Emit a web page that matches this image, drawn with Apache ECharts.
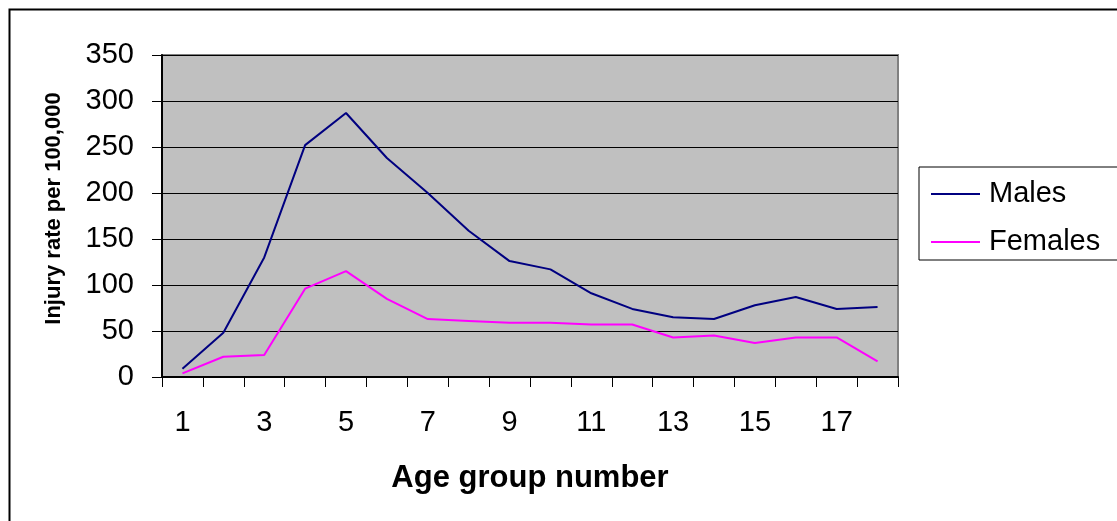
<!DOCTYPE html>
<html>
<head>
<meta charset="utf-8">
<script src="https://cdn.jsdelivr.net/npm/echarts@6/dist/echarts.min.js"></script>
<style>
html,body{margin:0;padding:0;background:#fff;}
#chart{width:1117px;height:521px;}
</style>
</head>
<body>
<div id="chart"></div>
<script>
const categories = ['1','2','3','4','5','6','7','8','9','10','11','12','13','14','15','16','17','18'];
const males = [9, 48, 130, 252, 287, 238, 200, 159, 126, 117, 91, 74, 65, 63, 78, 87, 74, 76];
const females = [4, 22, 24, 96, 115, 85, 63, 61, 59, 59, 57, 57, 43, 45, 37, 43, 43, 17];
const yTicks = [0, 50, 100, 150, 200, 250, 300, 350];

const chart = echarts.init(document.getElementById('chart'), null, {renderer: 'canvas'});
const font = 'Arial, "Liberation Sans", sans-serif';
chart.setOption({
  animation: false,
  textStyle: {fontFamily: font},
  graphic: [{
    type: 'rect',
    shape: {x: 9.5, y: 9.5, width: 1200, height: 600},
    style: {fill: 'none', stroke: '#000', lineWidth: 2},
    silent: true
  }],
  grid: {
    left: 162, top: 55, right: 219, bottom: 144,
    show: true, backgroundColor: '#C0C0C0', borderColor: '#808080', borderWidth: 2
  },
  legend: {
    orient: 'vertical',
    left: 919, top: 167,
    padding: [11, 40, 2, 12],
    itemGap: 16,
    itemWidth: 49, itemHeight: 2,
    icon: 'rect',
    borderColor: '#000', borderWidth: 1,
    backgroundColor: '#fff',
    textStyle: {fontSize: 29, color: '#000', fontFamily: font, lineHeight: 32, padding: [0,0,0,4]},
    data: ['Males', 'Females']
  },
  xAxis: {
    type: 'category',
    data: categories,
    boundaryGap: true,
    name: 'Age group number',
    nameLocation: 'middle',
    nameGap: 86,
    nameTextStyle: {fontSize: 31, fontWeight: 'bold', color: '#000', fontFamily: font},
    axisLine: {lineStyle: {color: '#000', width: 2}},
    axisTick: {show: true, length: 10, interval: 0, lineStyle: {color: '#000', width: 1}},
    axisLabel: {interval: 1, fontSize: 29, color: '#000', margin: 31, fontFamily: font},
    splitLine: {show: false}
  },
  yAxis: {
    type: 'value',
    min: yTicks[0], max: yTicks[yTicks.length - 1], interval: 50,
    name: 'Injury rate per 100,000',
    nameLocation: 'middle',
    nameGap: 97,
    nameTextStyle: {fontSize: 22, fontWeight: 'bold', color: '#000', fontFamily: font, padding: [0, 0, 0, 15]},
    axisLine: {show: true, lineStyle: {color: '#000', width: 2}},
    axisTick: {show: true, length: 10, lineStyle: {color: '#000', width: 1}},
    axisLabel: {fontSize: 29, color: '#000', margin: 28, fontFamily: font},
    splitLine: {show: true, lineStyle: {color: '#000', width: 1}}
  },
  series: [
    {name: 'Males', type: 'line', data: males, showSymbol: false, symbol: 'none',
     lineStyle: {color: '#000080', width: 2}, itemStyle: {color: '#000080'}},
    {name: 'Females', type: 'line', data: females, showSymbol: false, symbol: 'none',
     lineStyle: {color: '#FF00FF', width: 2}, itemStyle: {color: '#FF00FF'}}
  ]
});
</script>
</body>
</html>
